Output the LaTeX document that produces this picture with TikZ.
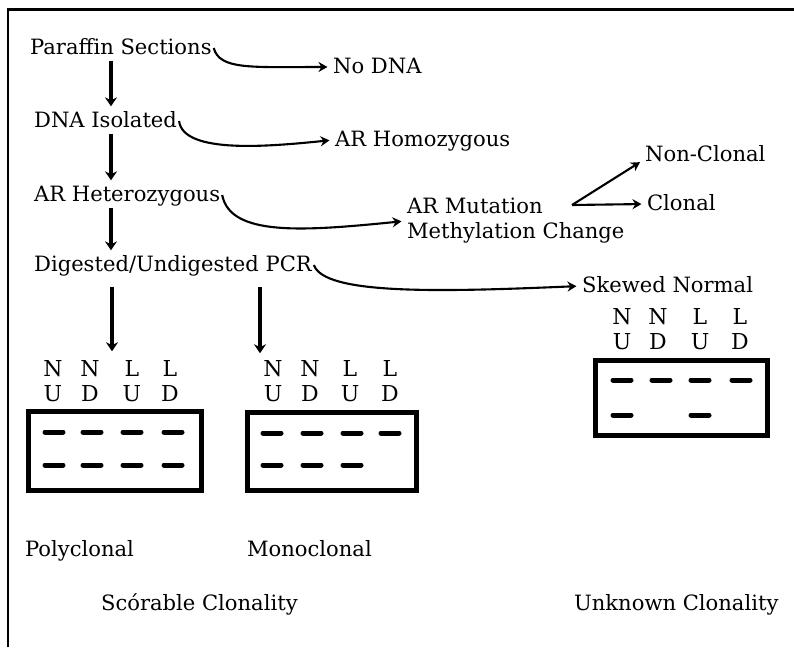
\documentclass[tikz,border=0pt]{standalone}
\usepackage{fontspec}
\setmainfont{DejaVu Serif}
\usetikzlibrary{arrows.meta}

\begin{document}
\begin{tikzpicture}[
    x=0.02cm,y=-0.02cm,
    font=\fontsize{12}{14}\selectfont,
    txt/.style={anchor=west,inner sep=1pt},
    lbl/.style={txt,text height=0.98em,text depth=0.25em},
    lane/.style={align=center,inner sep=0pt,font=\fontsize{12.5}{14.4}\selectfont},
    gel/.style={draw,line width=0.1cm,inner sep=0pt},
    band/.style={line width=0.1cm,line cap=round},
    arr/.style={-{Stealth[length=1.8mm,width=2.4mm]},line width=2.2pt,shorten >=1pt},
    carr/.style={-{Stealth[length=1.8mm,width=2mm]},line width=1.2pt,shorten >=2pt},
    frameline/.style={line width=0.06cm}
  ]
    \useasboundingbox (0,0) rectangle (794,647);
    \draw[frameline] (8,647) -- (8,9) -- (794,9);

    % main chain
    \node[lbl] (paraffin) at (28,48) {Paraffin Sections};
    \node[lbl] (isolated) at (32,121) {DNA Isolated};
    \node[lbl] (hetero) at (32,195) {AR Heterozygous};
    \node[lbl] (pcr) at (32,265) {Digested/Undigested PCR};

    % side results
    \node[lbl] (nodna) at (331,67) {No DNA};
    \node[lbl] (homo) at (333,140) {AR Homozygous};
    \node[txt,align=left,font=\fontsize{12}{14.2}\selectfont] (mutation) at (405,221) {AR Mutation\\Methylation Change};
    \node[lbl] (noncl) at (643,155) {Non-Clonal};
    \node[lbl] (clonal) at (645,204) {Clonal};
    \node[lbl] (skewed) at (580,286) {Skewed Normal};

    \coordinate (spine) at (111,0);
    \coordinate (fork) at (572,205);
    \coordinate (inA) at (112,353);
    \coordinate (inB) at (260,355);

    \draw[arr] (paraffin.south -| spine) -- (isolated.north -| spine);
    \draw[arr] (isolated.south -| spine) -- (hetero.north -| spine);
    \draw[arr] (hetero.south -| spine) -- (pcr.north -| spine);
    \draw[arr,shorten <=5pt] (pcr.south -| inA) -- (inA);
    \draw[arr,shorten <=5pt] (pcr.south -| inB) -- (inB);

    \draw[carr] (paraffin.east) .. controls +(6,22) and +(-80,0) .. (nodna.west);
    \draw[carr] (isolated.east) .. controls +(4,34) and +(-60,6) .. (homo.west);
    \draw[carr] (hetero.east) .. controls +(8,42) and +(-100,10) .. (mutation.west);
    \draw[carr] (pcr.east) .. controls +(10,30) and +(-140,6) .. (skewed.west);
    \draw[carr] (fork) -- ([yshift=-3pt]noncl.west);
    \draw[carr] (fork) -- (clonal.west);

    % gels
    \foreach \x/\a/\b [count=\i] in {53/N/U,90/N/D,132/L/U,170/L/D}
      \node[lane] (a\i) at (\x,381) {\a\\\b};
    \foreach \x/\a/\b [count=\i] in {273/N/U,310/N/D,350/L/U,390/L/D}
      \node[lane] (b\i) at (\x,381) {\a\\\b};
    \foreach \x/\a/\b [count=\i] in {622/N/U,658/N/D,700/L/U,740/L/D}
      \node[lane] (c\i) at (\x,329) {\a\\\b};

    \node[gel,minimum width=3.46cm,minimum height=1.58cm] (gelA) at (115,451) {};
    \node[gel,minimum width=3.38cm,minimum height=1.56cm] (gelB) at (332,451.5) {};
    \node[gel,minimum width=3.44cm,minimum height=1.5cm] (gelC) at (681.5,398) {};

    \foreach \x in {54,92,132,173} {
      \draw[band] (\x-9,432) -- (\x+9,432);
      \draw[band] (\x-9,465) -- (\x+9,465);
    }
    \foreach \x in {272,312,352,390} \draw[band] (\x-9,433) -- (\x+9,433);
    \foreach \x in {272,312,352} \draw[band] (\x-9,465) -- (\x+9,465);
    \foreach \x in {622,661,700,741} \draw[band] (\x-9,380) -- (\x+9,380);
    \foreach \x in {622,700} \draw[band] (\x-9,415) -- (\x+9,415);

    % outcomes
    \node[lbl] (poly) at (23,550) {Polyclonal};
    \node[lbl] (mono) at (245,550) {Monoclonal};
    \node[lbl] (scorable) at (99,604) {Scórable Clonality};
    \node[lbl] (unknown) at (572,604) {Unknown Clonality};
\end{tikzpicture}
\end{document}
